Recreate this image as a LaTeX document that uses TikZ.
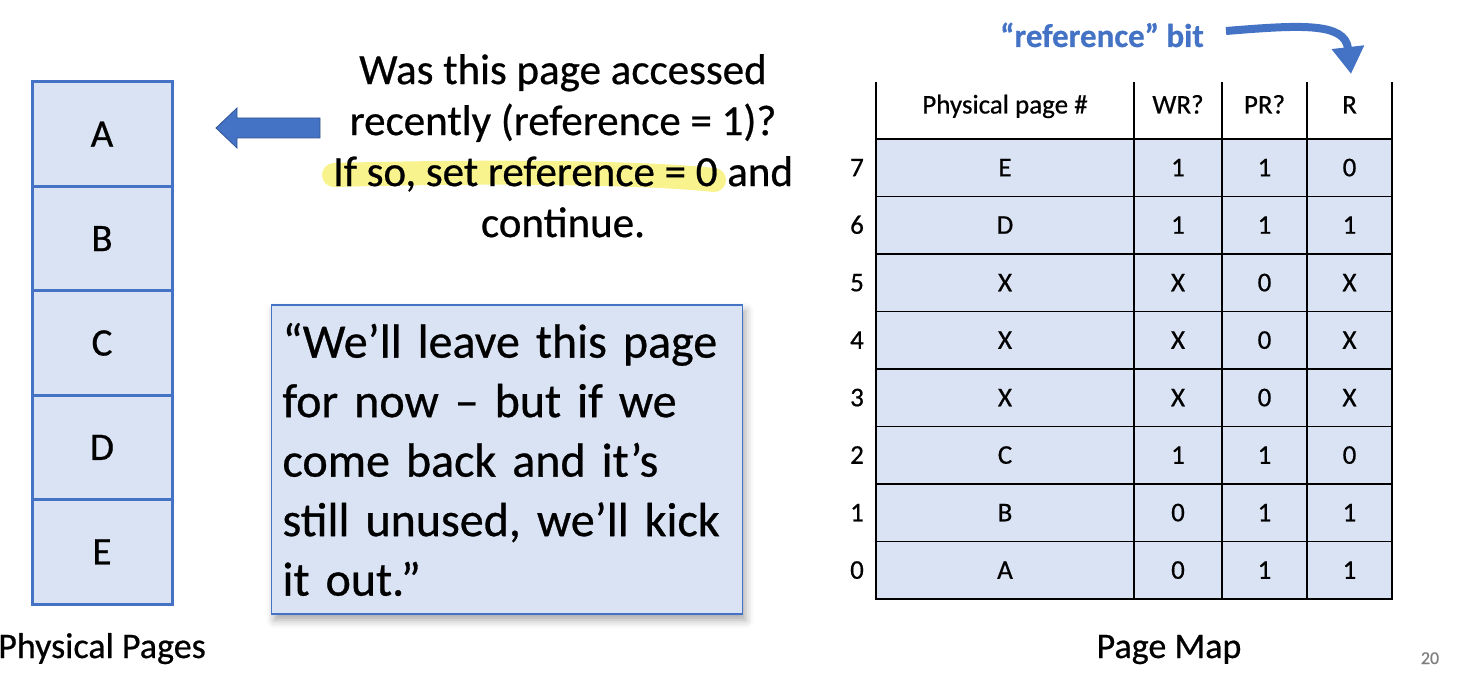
\documentclass[tikz,border=0pt]{standalone}
\usepackage{fontspec}
\setmainfont{Carlito}[FakeBold=0.6]
\usetikzlibrary{arrows.meta,shadows.blur}
\definecolor{pageblue}{HTML}{4472C4}
\definecolor{pagefill}{HTML}{DAE3F3}
\definecolor{marker}{HTML}{F8F38C}
\definecolor{slidegray}{HTML}{7F7F7F}

\begin{document}
\begin{tikzpicture}[x=1pt,y=-1pt,
  pagecell/.style={draw=pageblue, line width=3, fill=pagefill,
    minimum width=140, minimum height=104.4, inner sep=0,
    font=\fontsize{39}{44}\selectfont},
  tabcell/.style={draw=black, line width=1.3, fill=pagefill,
    minimum height=57.5, inner sep=0, text height=17, text depth=0,
    font=\fontsize{27}{31}\selectfont},
  tabtext/.style={inner sep=0, text height=17, text depth=0,
    font=\fontsize{27}{31}\selectfont},
  tabline/.style={draw=black, line width=1.3},
  caption/.style={inner sep=0, anchor=base, font=\fontsize{36}{40}\selectfont},
]
\useasboundingbox (0,0) rectangle (1472,676);

% physical pages stack
\foreach \l [count=\i from 0] in {A,B,C,D,E}
  \node[pagecell] (pp\l) at (102,{82+104.4*\i+52.2}) {\l};
\node[caption] (ppcap) at (102,658) {Physical Pages};

% block arrow pointing at the stack
\coordinate (artip) at (216,128);
\fill[pageblue] (artip) -- (237,108) -- (237,118) -- (320,118)
  -- (320,138) -- (237,138) -- (237,148) -- cycle;
\draw[pageblue!75!black, line width=0.8] (artip) -- (237,108) -- (237,118) -- (320,118)
  -- (320,138) -- (237,138) -- (237,148) -- cycle;

% highlighter stroke behind the question
\draw[marker, line width=24, line cap=round]
  (334,175) .. controls (480,171) and (640,172) .. (714,180);

\node[inner sep=0, anchor=north, align=center,
  font=\fontsize{43}{51}\selectfont] (question) at (563,54)
  {Was this page accessed\\ recently (reference = 1)?\\
   If so, set reference = 0 and\\ continue.};

% quote box
\node[draw=pageblue, line width=1.2, fill=pagefill,
  blur shadow={shadow xshift=3pt, shadow yshift=-6pt, shadow blur radius=8pt, shadow opacity=35},
  minimum width=471, minimum height=309, text width=449, inner xsep=11, inner ysep=0,
  align=left, font=\fontsize{48}{59.5}\selectfont] (quote) at (507,459.5)
  {“We’ll leave this page\\ for now – but if we\\ come back and it’s\\
   still unused, we’ll kick\\ it out.”};

% page map header
\foreach \x in {876,1134,1222,1307,1392}
  \draw[tabline] (\x,82) -- (\x,139);
\node[tabtext] (hpg) at (1005,105) {Physical page \#};
\node[tabtext] (hwr) at (1178,105) {WR?};
\node[tabtext] (hpr) at (1264.5,105) {PR?};
\node[tabtext] (hrf) at (1349.5,105) {R};

% page map rows
\foreach \n/\va/\vb/\vc/\vd [count=\k from 0] in
  {7/E/1/1/0, 6/D/1/1/1, 5/X/X/0/X, 4/X/X/0/X,
   3/X/X/0/X, 2/C/1/1/0, 1/B/0/1/1, 0/A/0/1/1} {
  \pgfmathsetmacro\cy{139+57.5*\k+28.75}
  \node[tabcell, minimum width=258] (pg\n) at (1005,\cy) {\va};
  \node[tabcell, minimum width=88] (wr\n) at (1178,\cy) {\vb};
  \node[tabcell, minimum width=85] (pr\n) at (1264.5,\cy) {\vc};
  \node[tabcell, minimum width=85] (rf\n) at (1349.5,\cy) {\vd};
  \node[tabtext] (idx\n) at (857,\cy) {\n};
}
\node[caption] (pmcap) at (1169,658) {Page Map};

% reference bit callout
\node[inner sep=0, anchor=base, text=pageblue,
  font=\fontsize{33}{38}\selectfont\bfseries] (refbit) at (1102,47) {“reference” bit};
\coordinate (rbstart) at (1226,31);
\coordinate (rbend) at (1351,74);
\draw[pageblue, line width=8, -{Triangle[length=27pt, width=31pt]}]
  (rbstart) .. controls (1300,25) and (1345,22) .. (rbend);

% slide number
\node[inner sep=0, anchor=base, text=slidegray, font=\fontsize{18}{20}\selectfont]
  (slideno) at (1430,664) {20};
\end{tikzpicture}
\end{document}
